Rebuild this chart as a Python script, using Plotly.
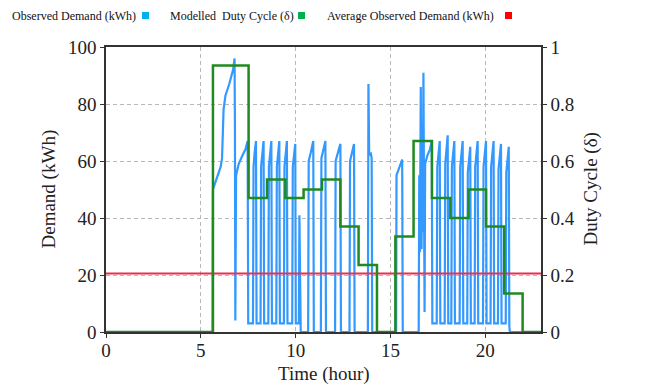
import plotly.graph_objects as go

# Observed demand (kWh) over the day, hours
time_h = [
    0, 5.62, 5.64, 5.85, 6.05, 6.12, 6.20, 6.30, 6.50, 6.70, 6.78, 6.80, 6.82, 6.86, 7.00, 7.20, 7.35, 7.47, 7.50,
    7.75, 7.78, 7.84, 7.91, 7.94,
    8.15, 8.18, 8.24, 8.31, 8.34,
    8.56, 8.59, 8.65, 8.72, 8.75,
    8.98, 9.01, 9.07, 9.14, 9.17,
    9.38, 9.41, 9.47, 9.54, 9.57,
    9.82, 9.85, 9.91, 9.98, 10.01,
    10.17, 10.20, 10.23, 10.27, 10.66, 10.69, 10.80, 10.93, 10.96,
    11.33, 11.36, 11.46, 11.57, 11.60,
    12.08, 12.11, 12.24, 12.36, 12.39,
    12.84, 12.87, 12.98, 13.08, 13.11,
    13.81, 13.84, 13.88, 13.96, 14.01, 14.04,
    15.30, 15.32, 15.48, 15.62, 15.65,
    16.49, 16.52, 16.55, 16.60, 16.64, 16.68, 16.70, 16.74, 16.80, 16.83, 16.95, 17.08, 17.18, 17.21,
    17.44, 17.47, 17.53, 17.60, 17.63,
    17.86, 17.89, 17.95, 18.02, 18.05,
    18.21, 18.24, 18.30, 18.37, 18.40,
    18.65, 18.68, 18.74, 18.81, 18.84,
    19.05, 19.08, 19.14, 19.21, 19.24,
    19.44, 19.47, 19.53, 19.60, 19.63,
    19.88, 19.91, 19.97, 20.04, 20.07,
    20.28, 20.31, 20.37, 20.44, 20.47,
    20.67, 20.70, 20.76, 20.83, 20.86,
    21.08, 21.11, 21.17, 21.24, 21.27, 21.30, 22.94,
]
demand_kwh = [
    0, 0, 50, 54, 58, 61, 78, 83, 87, 92, 96, 70, 4, 55, 59, 62, 64, 67, 3,
    3, 58, 63, 67, 3,
    3, 58, 63, 67, 3,
    3, 58, 63, 67, 3,
    3, 58, 63, 67, 3,
    3, 58, 63, 67, 3,
    3, 58, 63, 66, 3,
    3, 41, 2, 0, 0, 60, 63, 67, 0,
    0, 61, 64, 67, 0,
    0, 60, 63, 66, 0,
    0, 60, 63, 66, 0,
    0, 87, 62, 63, 61, 0,
    0, 55, 58, 60.5, 0,
    0, 55, 28, 86, 29, 70, 35, 91, 7, 59, 62, 64, 67, 3,
    3, 58, 63, 67, 3,
    3, 59, 64, 69, 3,
    3, 58, 63, 67, 3,
    3, 58, 63, 67, 3,
    3, 56, 61, 65, 3,
    3, 58, 63, 67, 3,
    3, 58, 63, 67, 3,
    3, 58, 63, 67, 3,
    3, 57, 62, 66, 3,
    3, 56, 61, 65, 2, 0, 0,
]

# Modelled duty cycle, piecewise constant from each change time
duty_time_h = [0, 5.64, 7.52, 8.49, 9.46, 10.42, 11.39, 12.36, 13.32, 14.29,
               15.26, 16.22, 17.19, 18.16, 19.12, 20.04, 21.00, 21.97, 22.94]
duty_cycle = [0, 0.935, 0.47, 0.535, 0.47, 0.50, 0.535, 0.37, 0.235, 0,
              0.335, 0.67, 0.47, 0.40, 0.50, 0.37, 0.135, 0, 0]

# Average observed demand
avg_time_h = [0, 22.94]
avg_demand_kwh = [20.5, 20.5]

x_ticks = [0, 5, 10, 15, 20]
y_ticks = [0, 20, 40, 60, 80, 100]
y2_ticks = [0, 0.2, 0.4, 0.6, 0.8, 1]
y2_tick_text = ["0", "0.2", "0.4", "0.6", "0.8", "1"]

legend_labels = ["Observed Demand (kWh)", "Modelled\u00a0 Duty Cycle (\u03b4)", "Average Observed Demand (kWh)"]
legend_colors = ["#00b0f0", "#00b050", "#ff0000"]

BLUE = "#3399ff"
GREEN = "#1f8a1f"
RED = "#e8304f"
FONT = "Liberation Serif"
GRID = dict(showgrid=True, gridcolor="#b8b8b8", griddash="4px,3px", gridwidth=1)

W, H = 649, 385
L, R, T, B = 106, 108, 47, 53
PW, PH = W - L - R, H - T - B


def px(x):
    return (x - L) / PW


def py(y):
    return (H - B - y) / PH


fig = go.Figure()
fig.add_trace(go.Scatter(x=time_h, y=demand_kwh, mode="lines",
                         line=dict(color=BLUE, width=2.2), showlegend=False))
fig.add_trace(go.Scatter(x=avg_time_h, y=avg_demand_kwh, mode="lines",
                         line=dict(color=RED, width=2), showlegend=False))
fig.add_trace(go.Scatter(x=duty_time_h, y=duty_cycle, mode="lines", yaxis="y2",
                         line=dict(color=GREEN, width=2.5, shape="hv"), showlegend=False))

axis_common = dict(
    showline=True, linecolor="#333333", linewidth=1.5,
    ticks="outside", ticklen=4, tickcolor="#333333",
    tickfont=dict(family=FONT, size=19, color="#222222"),
    zeroline=False, automargin=False,
)

fig.update_layout(
    width=W, height=H,
    margin=dict(l=L, r=R, t=T, b=B),
    paper_bgcolor="white", plot_bgcolor="white",
    font=dict(family=FONT, color="#222222"),
    xaxis=dict(range=[0, 22.94], tickvals=x_ticks, mirror=True,
               ticklabelstandoff=-4, **GRID, **axis_common),
    yaxis=dict(range=[0, 100], tickvals=y_ticks, **GRID, **axis_common),
    yaxis2=dict(range=[0, 1], tickvals=y2_ticks, ticktext=y2_tick_text,
                overlaying="y", side="right", showgrid=False,
                **axis_common),
    showlegend=False,
)

# Axis titles
title_font = dict(family=FONT, size=19, color="#222222")
fig.add_annotation(x=0.5, y=py(374), xref="paper", yref="paper", text="Time (hour)",
                   showarrow=False, xanchor="center", yanchor="middle", font=title_font)
fig.add_annotation(x=px(48), y=0.5, xref="paper", yref="paper", text="Demand (kWh)",
                   showarrow=False, textangle=-90, xanchor="center", yanchor="middle", font=title_font)
fig.add_annotation(x=px(590), y=0.5, xref="paper", yref="paper", text="Duty Cycle (\u03b4)",
                   showarrow=False, textangle=-90, xanchor="center", yanchor="middle", font=title_font)

# Legend row: label text followed by a colour swatch
label_left = [10, 168, 325]
swatch_left = [142, 298, 505]
for text, color, lx, sx in zip(legend_labels, legend_colors, label_left, swatch_left):
    fig.add_annotation(x=px(lx), y=py(15.5), xref="paper", yref="paper",
                       text=text, showarrow=False, xanchor="left", yanchor="middle",
                       font=dict(family=FONT, size=12, color="#111111"))
    fig.add_shape(type="rect", xref="paper", yref="paper",
                  x0=px(sx), x1=px(sx + 7), y0=py(19), y1=py(12),
                  fillcolor=color, line=dict(width=0))

fig.write_html("out.html")
